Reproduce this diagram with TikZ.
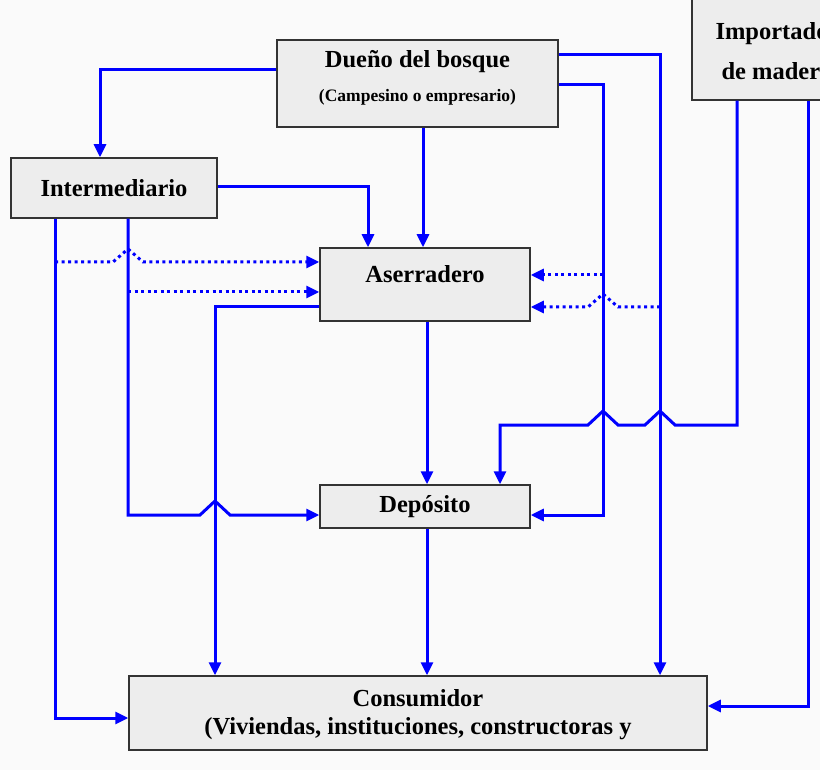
\documentclass[tikz,border=0pt]{standalone}
\usepackage{fontspec}
\setmainfont{Liberation Serif}
\usetikzlibrary{arrows.meta,calc}
\begin{document}
\begin{tikzpicture}[x=1pt,y=-1pt,
  big/.style={font=\bfseries\fontsize{24.5}{27}\selectfont},
  box/.style={draw=black!80,line width=1.5pt,fill=gray!14,inner sep=0pt,big,align=center},
  ln/.style={draw=blue,line width=3pt,-{Triangle[length=13pt,width=12pt]}},
  dt/.style={ln,dash pattern=on 3pt off 3.5pt}]
\fill[white!96!gray] (0,0) rectangle (820,770);
\useasboundingbox (0,0) rectangle (820,770);
\clip (0,0) rectangle (820,770);
\node[box,minimum width=281,minimum height=87] (dueno) at (417.5,83.5) {};
\node[big] (t1) at (417.5,62) {Dueño del bosque};
\node[font=\bfseries\fontsize{17.5}{20}\selectfont] (t2) at (417.5,97) {(Campesino o empresario)};
\node[box,minimum width=140,minimum height=130] (imp) at (762,35) {};
\node[big,anchor=west] (i1) at (712,34) {Importador};
\node[big,anchor=west] (i2) at (718,71) {de madera};
\node[box,minimum width=206,minimum height=60] (inter) at (114,188) {Intermediario};
\node[box,minimum width=210,minimum height=73] (ase) at (425,284.5) {};
\node[big] (at) at (425,274) {Aserradero};
\node[box,minimum width=210,minimum height=43] (dep) at (425,506.5) {Depósito};
\node[box,minimum width=578,minimum height=74] (con) at (418,713) {};
\node[big] (c1) at (418,698) {Consumidor};
\node[big] (c2) at (418,729) {(Viviendas, instituciones, constructoras y};
% connectors
\draw[ln] (dueno.west |- 0,70) -| (inter.north -| 100,0);
\draw[ln] (dueno.south -| 423,0) -- (ase.north -| 423,0);
\draw[ln] (inter.east |- 0,187) -| (ase.north -| 368,0);
\draw[ln] (dueno.east |- 0,55) -| (con.north -| 660,0);
\draw[ln] (dueno.east |- 0,85) -| (603,515) -- (dep.east |- 0,515);
\draw[ln] (imp.south -| 737,0) -- (737,425) -- (675,425) -- (660,411) -- (645,425) -- (618,425) -- (603,411) -- (588,425) -- (500,425) -- (dep.north -| 500,0);
\draw[ln] (imp.south -| 808,0) -- (808,706) -- (con.east |- 0,706);
\draw[ln] (inter.south -| 55,0) -- (55,718) -- (con.west |- 0,718);
\draw[ln] (inter.south -| 128,0) -- (128,515) -- (200,515) -- (215,501) -- (230,515) -- (dep.west |- 0,515);
\draw[ln] (ase.west |- 0,307) -| (con.north -| 215,0);
\draw[ln] (ase.south -| 427,0) -- (dep.north -| 427,0);
\draw[ln] (dep.south -| 427,0) -- (con.north -| 427,0);
% dotted
\coordinate (d1) at (55,262);
\coordinate (d2) at (128,292);
\coordinate (d3) at (603,275);
\coordinate (d4) at (660,307);
\draw[dt] (d1) -- (113,262) -- (128,249) -- (143,262) -- (ase.west |- 0,262);
\draw[dt] (d2) -- (ase.west |- 0,292);
\draw[dt] (d3) -- (ase.east |- 0,275);
\draw[dt] (d4) -- (618,307) -- (603,294) -- (588,307) -- (ase.east |- 0,307);
\end{tikzpicture}
\end{document}
